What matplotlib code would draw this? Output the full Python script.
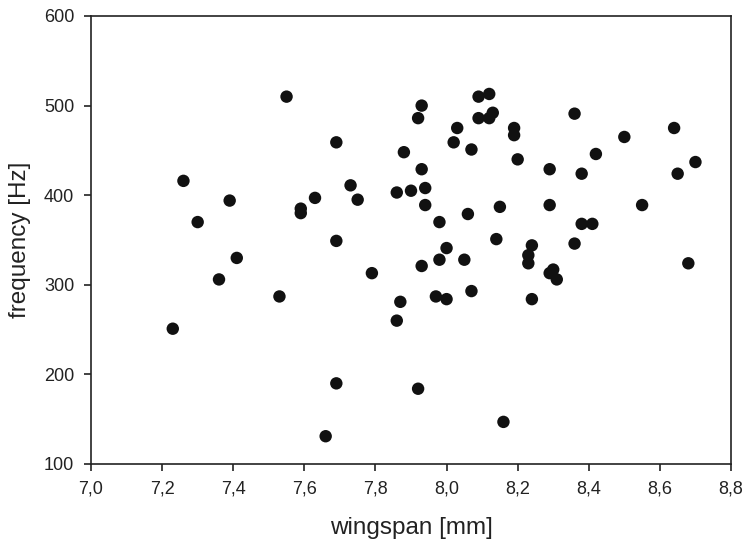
import matplotlib
matplotlib.use("Agg")
import matplotlib.pyplot as plt

wingspan = [7.23, 7.26, 7.30, 7.36, 7.39, 7.41, 7.53, 7.55, 7.59, 7.59,
            7.63, 7.66, 7.69, 7.69, 7.69, 7.73, 7.75, 7.79, 7.86, 7.86,
            7.87, 7.88, 7.90, 7.92, 7.92, 7.93, 7.93, 7.93, 7.94, 7.94,
            7.97, 7.98, 7.98, 8.00, 8.00, 8.02, 8.03, 8.05, 8.06, 8.07,
            8.07, 8.09, 8.09, 8.12, 8.12, 8.13, 8.14, 8.15, 8.16, 8.19,
            8.19, 8.20, 8.23, 8.23, 8.24, 8.24, 8.29, 8.29, 8.29, 8.30,
            8.31, 8.36, 8.36, 8.38, 8.38, 8.41, 8.42, 8.50, 8.55, 8.64,
            8.65, 8.68, 8.70]
frequency = [251, 416, 370, 306, 394, 330, 287, 510, 385, 380,
             397, 131, 459, 349, 190, 411, 395, 313, 403, 260,
             281, 448, 405, 486, 184, 500, 429, 321, 408, 389,
             287, 370, 328, 341, 284, 459, 475, 328, 379, 451,
             293, 510, 486, 513, 486, 492, 351, 387, 147, 475,
             467, 440, 333, 324, 344, 284, 429, 389, 313, 317,
             306, 491, 346, 424, 368, 368, 446, 465, 389, 475,
             424, 324, 437]

xticks = [7.0, 7.2, 7.4, 7.6, 7.8, 8.0, 8.2, 8.4, 8.6, 8.8]
xtick_labels = ["7,0", "7,2", "7,4", "7,6", "7,8", "8,0", "8,2", "8,4", "8,6", "8,8"]
yticks = [100, 200, 300, 400, 500, 600]
ytick_labels = ["100", "200", "300", "400", "500", "600"]

plt.rcParams['font.family'] = ['Liberation Sans', 'DejaVu Sans']

fig = plt.figure(figsize=(7.45, 5.45), dpi=100)
ax = fig.add_axes([91/745, 81/545, 640/745, 448/545])

ax.scatter(wingspan, frequency, s=80, color='#111111', edgecolors='none', zorder=3, clip_on=False)

ax.set_xlim(7.0, 8.8)
ax.set_ylim(100, 600)
ax.set_xticks(xticks)
ax.set_xticklabels(xtick_labels)
ax.set_yticks(yticks)
ax.set_yticklabels(ytick_labels)

ax.tick_params(axis='both', direction='out', length=5, width=1.2, labelsize=13,
               colors='#222222', top=False, right=False, pad=7)
for sp in ax.spines.values():
    sp.set_linewidth(1.2)
    sp.set_color('#222222')

ax.set_xlabel('wingspan [mm]', fontsize=17.5, color='#222222', labelpad=14)
ax.set_ylabel('frequency [Hz]', fontsize=17.5, color='#222222', labelpad=9)

fig.savefig('out.png', dpi=100)
